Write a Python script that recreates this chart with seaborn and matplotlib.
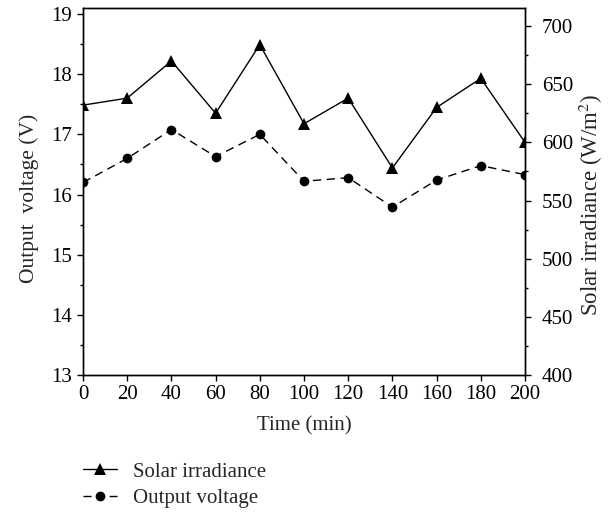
import matplotlib
matplotlib.use("Agg")
import matplotlib.pyplot as plt
from matplotlib.ticker import MultipleLocator
import seaborn as sns
import pandas as pd

time_min = [0, 20, 40, 60, 80, 100, 120, 140, 160, 180, 200]
irradiance = [632, 638, 670, 625, 684, 616, 638, 578, 630, 655, 600]
voltage = [16.20, 16.60, 17.08, 16.63, 17.00, 16.22, 16.28, 15.79, 16.24, 16.48, 16.33]

df = pd.DataFrame({"time": time_min, "irr": irradiance, "volt": voltage})

sns.set_theme(style="ticks")
plt.rcParams["font.family"] = ["Liberation Serif", "DejaVu Serif"]
plt.rcParams["mathtext.fontset"] = "stix"

FS = 15

fig = plt.figure(figsize=(6.12, 5.13), dpi=100)
ax = fig.add_axes([83 / 612, 1 - 375 / 513, 442 / 612, 367 / 513])
ax2 = ax.twinx()

sns.lineplot(data=df, x="time", y="volt", ax=ax, color="black", lw=1.0,
             marker="o", markersize=7, markeredgewidth=0, linestyle=(0, (6, 4)))
sns.lineplot(data=df, x="time", y="irr", ax=ax2, color="black", lw=1.0,
             marker="^", markersize=9, markeredgewidth=0)

ax.set_xlim(0, 200)
ax.set_ylim(13, 19.1)
ax2.set_ylim(400, 715.5)
ax.xaxis.set_major_locator(MultipleLocator(20))
ax.yaxis.set_major_locator(MultipleLocator(1))
ax.yaxis.set_minor_locator(MultipleLocator(0.5))
ax2.yaxis.set_major_locator(MultipleLocator(50))
ax2.yaxis.set_minor_locator(MultipleLocator(25))

for a in (ax, ax2):
    for s in a.spines.values():
        s.set_linewidth(1.0)
        s.set_color("black")
    a.tick_params(which="major", length=4, width=1.0, colors="black", labelsize=FS, pad=4)
    a.tick_params(which="minor", length=2.5, width=1.0, colors="black")

ax.tick_params(axis="x", top=False, pad=3)
ax2.tick_params(axis="y", pad=8)
ax.set_xlabel("Time (min)", fontsize=FS, labelpad=9)
ax.set_ylabel("Output  voltage (V)", fontsize=15.5, labelpad=9)
ax2.set_ylabel("Solar irradiance (W/m$^2$)", fontsize=16.5, labelpad=3)
ax.yaxis.label.set_y(0.48)
ax2.yaxis.label.set_y(0.463)

handles = [
    plt.Line2D([], [], color="black", lw=1.0, marker="^", markersize=9, markeredgewidth=0),
    plt.Line2D([], [], color="black", lw=1.0, marker="o", markersize=7, markeredgewidth=0,
               linestyle=(0, (5.8, 13))),
]
fig.legend(handles, ["Solar irradiance", "Output voltage"], loc="upper left",
           bbox_to_anchor=(83 / 612, 1 - 462 / 513), frameon=False, fontsize=FS,
           handlelength=1.65, handletextpad=0.75, labelspacing=0.35,
           borderaxespad=0, borderpad=0)

fig.savefig("out.png", dpi=100)
